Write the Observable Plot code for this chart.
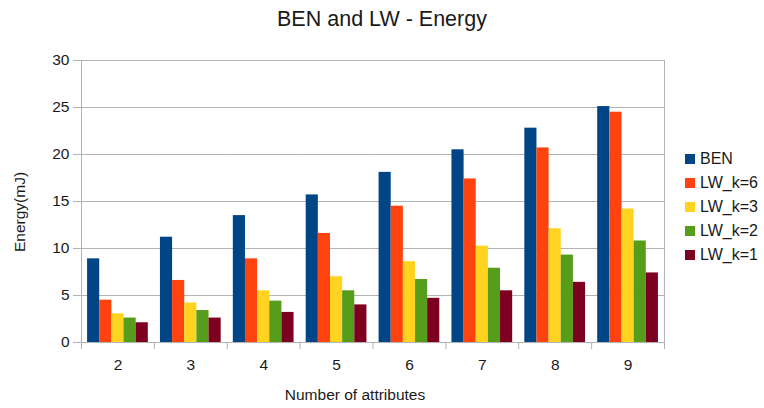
<!DOCTYPE html>
<html>
<head>
<meta charset="utf-8">
<script src="https://cdn.jsdelivr.net/npm/d3@7"></script>
<script src="https://cdn.jsdelivr.net/npm/@observablehq/plot@0.6"></script>
<style>
  body { margin: 0; background: #fff; }
  #chart { position: relative; width: 764px; height: 408px; font-family: "Liberation Sans", Arial, sans-serif; color: #1a1a1a; }
  #chart svg { position: absolute; left: 0; top: 0; }
  .title { position: absolute; left: 0; width: 764px; top: 7px; text-align: center; font-size: 21.5px; }
  .xlabel { position: absolute; left: 205px; width: 300px; top: 386px; text-align: center; font-size: 15.5px; }
  .ylabel { position: absolute; left: 20px; top: 212px; font-size: 15.5px; white-space: nowrap; transform: translate(-50%, -50%) rotate(-90deg); }
  .legend { position: absolute; left: 685px; top: 147px; font-size: 16px; }
  .legend div { height: 24px; display: flex; align-items: center; }
  .legend span.sw { display: inline-block; width: 10px; height: 10px; margin-right: 5px; }
</style>
</head>
<body>
<div id="chart">
  <div class="title">BEN and LW - Energy</div>
  <div class="ylabel">Energy(mJ)</div>
  <div class="xlabel">Number of attributes</div>
  <div class="legend" id="legend"></div>
</div>
<script>
// Number of attributes on the horizontal axis
const attributes = [2, 3, 4, 5, 6, 7, 8, 9];
const series = ["BEN", "LW_k=6", "LW_k=3", "LW_k=2", "LW_k=1"];
const colors = ["#004586", "#ff420e", "#ffd320", "#579d1c", "#7e0021"];
const yTicks = [0, 5, 10, 15, 20, 25, 30];

// Energy in mJ per number of attributes
const ben  = [8.9, 11.2, 13.5, 15.7, 18.1, 20.5, 22.8, 25.1];
const lwK6 = [4.5, 6.6, 8.9, 11.6, 14.5, 17.4, 20.7, 24.5];
const lwK3 = [3.05, 4.2, 5.5, 7.0, 8.6, 10.25, 12.1, 14.2];
const lwK2 = [2.6, 3.4, 4.4, 5.5, 6.7, 7.9, 9.3, 10.8];
const lwK1 = [2.1, 2.6, 3.2, 4.0, 4.7, 5.5, 6.4, 7.4];

const values = [ben, lwK6, lwK3, lwK2, lwK1];
const table = attributes.flatMap((a, i) =>
  series.map((s, j) => ({attribute: a, series: s, energy: values[j][i]}))
);

const width = 764, height = 408;
const marginLeft = 81, marginRight = 100, marginTop = 60, marginBottom = 66;
const facetStep = (width - marginLeft - marginRight) / attributes.length;
const axisColor = "#b3b3b3";

const chart = Plot.plot({
  width, height, marginLeft, marginRight, marginTop, marginBottom,
  style: {fontFamily: "'Liberation Sans', Arial, sans-serif", fontSize: "15.5px", color: "#1a1a1a", background: "transparent"},
  fx: {domain: attributes, padding: 0, round: false, label: null},
  x: {domain: series, paddingInner: 0, paddingOuter: 0.5, round: false, axis: null},
  y: {domain: [0, 30], label: null},
  color: {domain: series, range: colors},
  marks: [
    Plot.gridY(yTicks, {stroke: axisColor, strokeOpacity: 1, strokeWidth: 1}),
    Plot.barY(table, {fx: "attribute", x: "series", y: "energy", fill: "series"}),
    Plot.frame({facet: "super", stroke: axisColor, strokeWidth: 1}),
    Plot.axisY(yTicks, {tickSize: 8, tickPadding: 4, stroke: axisColor, label: null, fill: "#1a1a1a"}),
    Plot.axisFx({anchor: "bottom", tickSize: 0, tickPadding: 16, label: null, fill: "#1a1a1a"}),
    // separator ticks at group boundaries
    Plot.axisFx({anchor: "bottom", tickSize: 7, text: null, label: null, stroke: axisColor, dx: -facetStep / 2}),
    Plot.axisFx({anchor: "bottom", ticks: [attributes[attributes.length - 1]], tickSize: 7, text: null, label: null, stroke: axisColor, dx: facetStep / 2})
  ]
});
document.getElementById("chart").prepend(chart);

const legend = document.getElementById("legend");
series.forEach((s, i) => {
  const row = document.createElement("div");
  const sw = document.createElement("span");
  sw.className = "sw";
  sw.style.background = colors[i];
  row.appendChild(sw);
  row.appendChild(document.createTextNode(s));
  legend.appendChild(row);
});
</script>
</body>
</html>
